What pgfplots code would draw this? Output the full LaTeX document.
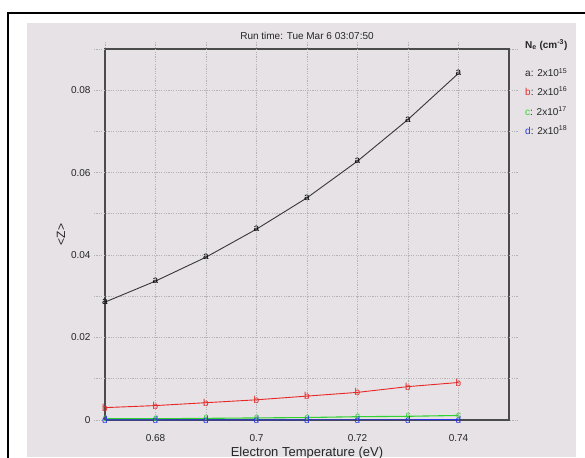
\documentclass[border=0pt]{standalone}
\usepackage{fontspec}
\setmainfont{Liberation Sans}
\usepackage{pgfplots}
\pgfplotsset{compat=1.18}
\definecolor{panel}{RGB}{230,226,229}
\definecolor{gridc}{RGB}{180,180,180}
\definecolor{framec}{RGB}{75,75,75}
\definecolor{cA}{RGB}{55,55,55}
\definecolor{cB}{RGB}{232,40,40}
\definecolor{cC}{RGB}{50,210,50}
\definecolor{cD}{RGB}{40,50,230}
\pgfplotsset{lettermark/.style={mark=text, text mark={#1}, text mark as node=true,
  text mark style={font=\fontsize{10}{10}\selectfont, inner sep=0pt}}}
\begin{document}
\begin{tikzpicture}[x=1pt,y=1pt]
\useasboundingbox (0,0) rectangle (585,457);
\fill[white] (0,0) rectangle (585,457);
\fill[panel] (27,0) rectangle (576,434);
\draw[black, line width=2pt] (8,-2) -- (8,444) -- (587,444);
\begin{axis}[
  at={(105pt,37pt)}, anchor=south west,
  width=404pt, height=371pt, scale only axis,
  xmin=0.67, xmax=0.75, ymin=0, ymax=0.09,
  scaled ticks=false,
  xtick={0.68,0.7,0.72,0.74}, ytick={0,0.02,0.04,0.06,0.08},
  xticklabels={0.68,0.7,0.72,0.74},
  yticklabels={0,0.02,0.04,0.06,0.08},
  major tick length=0,
  axis line style={framec, line width=1.5pt},
  clip=false,
  tick label style={font=\fontsize{10}{12}\selectfont, text=black!85},
  xticklabel style={anchor=center, yshift=-18pt},
  yticklabel style={anchor=east, xshift=-11pt},
  title={Run time: Tue Mar 6 03:07:50},
  title style={font=\fontsize{10}{12}\selectfont, text=black!85, at={(axis description cs:0.5,1)}, anchor=center, yshift=7pt},
  xlabel={Electron Temperature (eV)},
  xlabel style={font=\fontsize{13}{15}\selectfont, text=black!85, at={(axis description cs:0.5,0)}, anchor=center, yshift=-33pt},
  ylabel={{<}Z{>}},
  ylabel style={font=\fontsize{12}{14}\selectfont, text=black!85, at={([xshift=-44pt]axis description cs:0,0.5)}, anchor=center},
]
\pgfplotsinvokeforeach{0.68,0.69,0.70,0.71,0.72,0.73,0.74}{
  \draw[gridc, line width=0.8pt, dash pattern=on 1.2pt off 1.2pt] (axis cs:#1,0) -- ([yshift=8pt]axis cs:#1,0.09);
}
\draw[gridc, line width=0.8pt, dash pattern=on 1.2pt off 1.2pt] ([yshift=1pt]axis cs:0.67,0.09) -- ([yshift=8pt]axis cs:0.67,0.09);
\pgfplotsinvokeforeach{0.01,0.02,0.03,0.04,0.05,0.06,0.07,0.08}{
  \draw[gridc, line width=0.8pt, dash pattern=on 1.2pt off 1.2pt] ([xshift=-11pt]axis cs:0.67,#1) -- ([xshift=9pt]axis cs:0.75,#1);
}
\pgfplotsinvokeforeach{0,0.09}{
  \draw[gridc, line width=0.8pt, dash pattern=on 1.2pt off 1.2pt] ([xshift=-11pt]axis cs:0.67,#1) -- ([xshift=-1pt]axis cs:0.67,#1);
  \draw[gridc, line width=0.8pt, dash pattern=on 1.2pt off 1.2pt] ([xshift=1pt]axis cs:0.75,#1) -- ([xshift=9pt]axis cs:0.75,#1);
}
\addplot[cA, line width=0.9pt, lettermark=a, mark options={black}] coordinates {
 (0.67,0.0286) (0.68,0.0337) (0.69,0.0395) (0.70,0.0463) (0.71,0.0539) (0.72,0.0628) (0.73,0.0729) (0.74,0.0841)};
\addplot[cB, line width=0.9pt, lettermark=b] coordinates {
 (0.67,0.0030) (0.68,0.0035) (0.69,0.0042) (0.70,0.0049) (0.71,0.0058) (0.72,0.0067) (0.73,0.0081) (0.74,0.0091)};
\addplot[cC, line width=1.1pt, lettermark=c] coordinates {
 (0.67,0.0003) (0.68,0.0003) (0.69,0.0004) (0.70,0.0005) (0.71,0.0006) (0.72,0.0008) (0.73,0.0009) (0.74,0.0011)};
\addplot[cD, line width=0.9pt, lettermark=d] coordinates {
 (0.67,0.00002) (0.68,0.00002) (0.69,0.00003) (0.70,0.00004) (0.71,0.00005) (0.72,0.00006) (0.73,0.00007) (0.74,0.00009)};
\end{axis}
\begin{scope}[every node/.style={anchor=west, inner sep=0pt, font=\fontsize{10}{12}\selectfont, text=black!85}]
\node[font=\bfseries\fontsize{10}{12}\selectfont] at (525,412) {N\textsubscript{e} (cm\textsuperscript{-3})};
\node at (525,384.3) {a: 2x10\textsuperscript{15}};
\node at (525,366) {\textcolor{cB}{b}: 2x10\textsuperscript{16}};
\node at (525,346) {\textcolor{cC}{c}: 2x10\textsuperscript{17}};
\node at (525,327) {\textcolor{cD}{d}: 2x10\textsuperscript{18}};
\end{scope}
\end{tikzpicture}
\end{document}
